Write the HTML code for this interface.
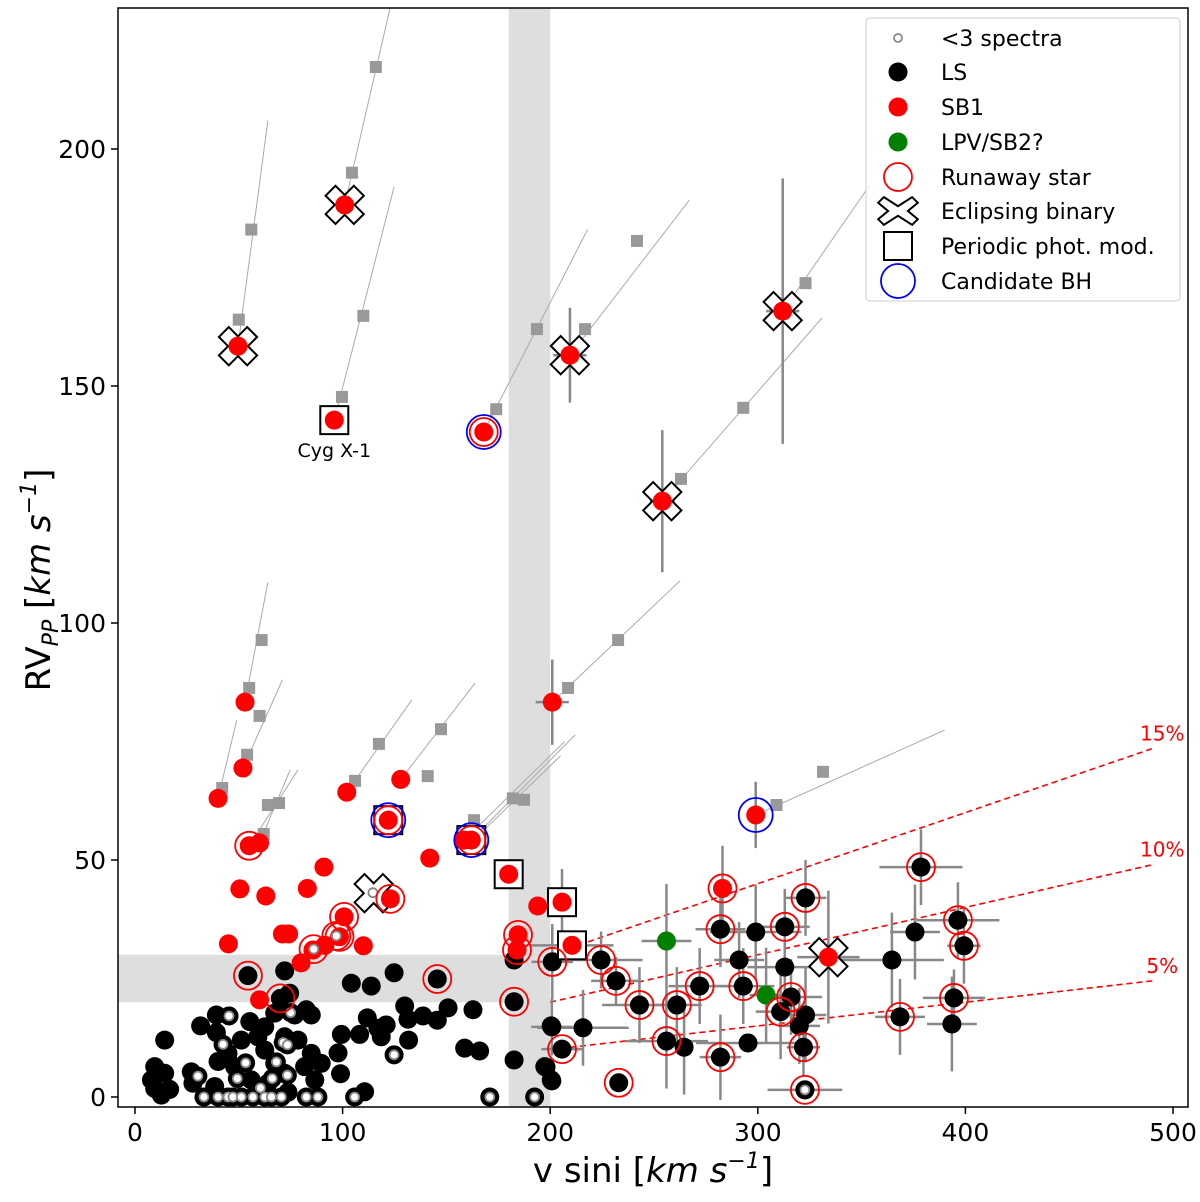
<!DOCTYPE html>
<html><head><meta charset="utf-8"><style>
html,body{margin:0;padding:0;background:#fff;}
svg{display:block;font-family:"DejaVu Sans","Liberation Sans",sans-serif;}
</style></head><body>
<svg id="chart" width="1200" height="1202" viewBox="0 0 1200 1202" xmlns="http://www.w3.org/2000/svg">
<g id="layer"></g>
</svg>
<script>
// ---- data arrays (v sini, RV_PP) ----
var xTicks = [0,100,200,300,400,500];
var yTicks = [0,50,100,150,200];
var percentLines = [15,10,5];
var sb1V  = [49.6,101,96,168,209.5,312,254,201,299,53,52,40,122,128,102,158.5,162,180,205.7,194,210.5,142,91,83,50.5,63,55,60,45,71,74,100.7,98.5,91.5,85.7,80,123,110,60,184.5,184,334,283];
var sb1RV = [158.4,188.2,142.8,140.3,156.5,165.8,125.7,83.3,59.5,83.3,69.4,63,58.4,67,64.3,54.2,54.2,47,41.1,40.3,32,50.4,48.5,44,43.9,42.4,53,53.6,32.3,34.4,34.4,38,33.8,32,31,28.3,41.8,31.9,20.5,34.2,31,29.5,44];
var sb1Err = [[209.5,156.5,8,10],[312,165.8,8,28],[254,125.7,6,15],[201,83.3,8,9],[299,59.5,0,7],[205.7,41.1,0,7],[210.5,32,20,0],[334,29.5,15,14],[283,44,0,9]];
var lsV  = [54.4,72.1,104.2,113.8,124.8,145.6,70,74.5,182.6,182.6,129.9,150.8,162.8,131.5,138.7,145.6,111.9,121,117,108.2,99.4,131.8,118.6,158.8,166,182.6,97.8,99,110.6,14.3,31.6,39.2,39.2,9.5,14.3,7.9,9.5,12.7,16.7,27.1,27.9,38.4,40,44.8,51.2,55.3,62.5,67.3,76.9,82.5,84.9,78.5,84.9,89.7,86.6,48,56,62.5,67.3,72.1,72.1,64.1,40,57.7,73.7,81.7,200.5,197.4,200.5,59.2];
var lsRV = [25.6,26.6,24,23.4,26.2,24.9,20.8,21.9,20.1,28.9,19.2,18.8,18.4,16.4,17.1,16.2,16.7,15.2,14.5,13.2,13.2,12,12.7,10.3,9.7,7.8,9.3,4.9,1.1,12,15,17.3,13.6,6.4,5,3.6,1.8,0.4,1.6,5.3,2.9,2.2,7.5,9.2,12,15.9,14.8,17.7,17.3,18.4,17.3,12,9.2,7.1,3.6,6.4,3.6,9.9,7.1,12.7,5,2.9,0.3,0.3,1,6.4,15,6.4,3.6,12.7];
var lsErrV  = [201,224.5,231.7,243,261,272,282,293,313,323,316,311,378.6,396.4,399.3,394.5,368.5,256,282,322,205.7,233,322.7,299,291,313,323,320,375.7,364.6,393.5,200.8,215.8,264.5,295.3,200.8,198];
var lsErrRV = [28.5,28.9,24.5,19.4,19.4,23.4,35.4,23.4,35.9,42,21.1,18,48.5,37.3,31.9,20.9,16.9,11.8,8.4,10.5,10.1,3,1.5,34.8,28.9,27.4,17.3,15,34.8,28.9,15.4,14.8,14.6,10.5,11.4,3.4,6.3];
var lsErrX  = [10,20,12,18,12,15,12,15,12,10,15,12,20,20,8,15,12,20,10,8,10,0,18,22,12,18,10,10,12,25,12,10,22,0,25,0,0];
var lsErrY  = [8,6,5,8,8,8,8,8,8,8,8,10,8,8,8,6,8,10,9,6,0,0,0,10,8,10,10,8,10,10,10,6,8,10,0,0,0];
var fewV  = [45.3,42.4,53.3,68.1,71.4,73.4,30.3,49.3,66.1,73.4,60.4,75,124.8,33.2,40,44.8,47.2,51.2,56.8,62.5,65.7,70.5,82.5,88.1,105.8,170.9,192.5,86.1,97,114.6,322.7];
var fewRV = [17.1,11.1,7.2,7.4,11.5,11,4.4,3.9,3.9,4.6,1.9,17.8,8.9,0,0,0,0,0,0,0,0,0,0,0,0,0,0,31.2,34,43.1,1.5];
var lpvV  = [256,304];
var lpvRV = [32.9,21.5];
var lpvErr = [[256,32.9,12,12],[304,21.5,8,10]];
var runV  = [55,100.7,98.5,86,97,123,122,162,184.5,184,168,283,54.4,145.6,70,182.6,201,224.5,231.7,243,261,272,282,293,313,323,316,311,378.6,396.4,399.3,394.5,368.5,256,282,322,205.7,233,322.7];
var runRV = [53,38,33.8,31.2,34,41.8,58.4,54.2,34.2,31,140.3,44,25.6,24.9,20.8,20.1,28.5,28.9,24.5,19.4,19.4,23.4,35.4,23.4,35.9,42,21.1,18,48.5,37.3,31.9,20.9,16.9,11.8,8.4,10.5,10.1,3,1.5];
var eclV  = [49.6,101,209.5,312,254,115,334];
var eclRV = [158.4,188.2,156.5,165.8,125.7,43,29.5];
var perV  = [96,122,162,180,205.7,210.5];
var perRV = [142.8,58.4,54.2,47,41.1,32];
var bhV   = [168,122,162,299];
var bhRV  = [140.3,58.4,54.2,59.5];
var projLines = [[49.6,158.4,64,206],[101,188.2,123,230],[96,142.8,124.8,192],[168,140.3,218,183],[209.5,156.5,267,189.2],[312,165.8,354,192.4],[254,125.7,331,164.4],[201,83.3,262.5,108.9],[299,59.5,390,77.4],[53,83.3,64,108.6],[52,69.4,71,88],[40,63,49,79.5],[60,53.6,74.7,69],[55,53,78.5,69],[102,64.3,133.4,83.8],[128,67,163.8,87.3],[162,54.2,212,76.4],[158.5,54.2,207,75],[165,55,205,72]];
var projSquares = [[50,164],[56,183],[104.5,195],[116,217.3],[99.7,147.7],[110,164.8],[174,145.1],[193.6,162],[216.8,162],[241.8,180.6],[323,171.7],[263,130.4],[293,145.4],[208.6,86.3],[232.7,96.4],[309,61.6],[331.4,68.6],[55,86.3],[61,96.4],[54,72.2],[60,80.4],[42,65.2],[62,55.5],[64,61.6],[69.4,62],[106,66.7],[117.5,74.5],[141,67.7],[147.4,77.6],[163.3,58.4],[182,63],[187.4,62.7]];

var PL=118, PR=1188, PT=8, PB=1107;
function X(v){ return 135 + v*2.076; }
function Y(r){ return 1097 - r*4.74; }
var NS="http://www.w3.org/2000/svg";
var layer=document.getElementById('layer');
function mk(tag, attrs, parent){
  var e=document.createElementNS(NS,tag);
  for(var k in attrs) e.setAttribute(k, attrs[k]);
  (parent||layer).appendChild(e); return e;
}
var clip=mk('clipPath',{id:'pc'}); mk('rect',{x:PL,y:PT,width:PR-PL,height:PB-PT},clip);
var plot=mk('g',{'clip-path':'url(#pc)'});



var e;
e=mk('rect',{x:X(180),y:PT,width:X(200)-X(180),height:PB-PT,fill:'#dedede'},plot);


e=mk('rect',{x:PL,y:Y(30),width:X(200)-PL,height:Y(20)-Y(30),fill:'#dedede'},plot);



percentLines.forEach(function(p){
  var l=mk('line',{x1:X(200),y1:Y(200*p/100),x2:X(490),y2:Y(490*p/100),stroke:'#f00','stroke-width':1.6,'stroke-dasharray':'6,4'},plot);
  
  
  var t=mk('text',{x:X(490)+10,y:Y(490*p/100)-8,fill:'#f00','font-size':20,'text-anchor':'middle'});
  t.textContent=p+'%';
  
  
});

projLines.forEach(function(a){
  var l=mk('line',{x1:X(a[0]),y1:Y(a[1]),x2:X(a[2]),y2:Y(a[3]),stroke:'#aaa','stroke-width':1},plot);
  
  
});
projSquares.forEach(function(a){
  var r=mk('rect',{x:X(a[0])-6,y:Y(a[1])-6,width:12,height:12,fill:'#999'},plot);
  
  
});

function errbar(v,r,xe,ye){
  if(xe>0){ var a=mk('line',{x1:X(v-xe),y1:Y(r),x2:X(v+xe),y2:Y(r),stroke:'#888','stroke-width':2.5},plot);
      }
  if(ye>0){ var b=mk('line',{x1:X(v),y1:Y(r-ye),x2:X(v),y2:Y(r+ye),stroke:'#888','stroke-width':2.5},plot);
      }
}
for(var i=0;i<lsErrV.length;i++) errbar(lsErrV[i],lsErrRV[i],lsErrX[i],lsErrY[i]);
sb1Err.forEach(function(a){errbar(a[0],a[1],a[2],a[3]);});
lpvErr.forEach(function(a){errbar(a[0],a[1],a[2],a[3]);});

function dot(v,r,fill,name){
  var c=mk('circle',{cx:X(v),cy:Y(r),r:9.5,fill:fill},plot);
  
  
}
for(i=0;i<lsV.length;i++) dot(lsV[i],lsRV[i],'#000','ls-point');
for(i=0;i<lsErrV.length;i++) dot(lsErrV[i],lsErrRV[i],'#000','ls-point');
for(i=0;i<fewV.length;i++){
  if(fewRV[i]<29) dot(fewV[i],fewRV[i],'#000','ls-point');
}
function xmark(v,r){
  var cx=X(v), cy=Y(r), L=20, w=7;
  var pts=[[-w,-L],[w,-L],[w,-w],[L,-w],[L,w],[w,w],[w,L],[-w,L],[-w,w],[-L,w],[-L,-w],[-w,-w]];
  var s=pts.map(function(p){var c=Math.SQRT1_2;return (cx+(p[0]-p[1])*c).toFixed(1)+','+(cy+(p[0]+p[1])*c).toFixed(1);}).join(' ');
  var g=mk('polygon',{points:s,fill:'#fff',stroke:'#000','stroke-width':2},plot);
  
  
}
for(i=0;i<eclV.length;i++) xmark(eclV[i],eclRV[i]);
for(i=0;i<perV.length;i++){
  var q=mk('rect',{x:X(perV[i])-14,y:Y(perRV[i])-14,width:28,height:28,fill:'#fff',stroke:'#000','stroke-width':2},plot);
  
  
}
for(i=0;i<sb1V.length;i++) dot(sb1V[i],sb1RV[i],'#f00','sb1-point');
for(i=0;i<lpvV.length;i++) dot(lpvV[i],lpvRV[i],'#008000','lpv-sb2-point');
for(i=0;i<fewV.length;i++){
  var f=mk('circle',{cx:X(fewV[i]),cy:Y(fewRV[i]),r:4.5,fill:'#fff',stroke:'#888','stroke-width':1.8},plot);
  
  
}
for(i=0;i<runV.length;i++){
  var rc=mk('circle',{cx:X(runV[i]),cy:Y(runRV[i]),r:14,fill:'none',stroke:'#f00','stroke-width':1.8},plot);
  
  
}
for(i=0;i<bhV.length;i++){
  var bc=mk('circle',{cx:X(bhV[i]),cy:Y(bhRV[i]),r:17,fill:'none',stroke:'#00f','stroke-width':1.8},plot);
  
  
}
e=mk('text',{x:X(96),y:Y(142.8)+37,'font-size':19,'text-anchor':'middle',fill:'#000'},plot);
e.textContent='Cyg X-1';



e=mk('rect',{x:PL,y:PT,width:PR-PL,height:PB-PT,fill:'none',stroke:'#000','stroke-width':1.5});


xTicks.forEach(function(t){
  var tk=mk('line',{x1:X(t),y1:PB,x2:X(t),y2:PB+7,stroke:'#000','stroke-width':1.5});
  
  
  var tx=mk('text',{x:X(t),y:PB+34,'font-size':25,'text-anchor':'middle'});
  tx.textContent=t;
  
  
});
yTicks.forEach(function(t){
  var tk=mk('line',{x1:PL-7,y1:Y(t),x2:PL,y2:Y(t),stroke:'#000','stroke-width':1.5});
  
  
  var tx=mk('text',{x:PL-12,y:Y(t)+9,'font-size':25,'text-anchor':'end'});
  tx.textContent=t;
  
  
});
</script>
<svg style="position:absolute;left:0;top:0" width="1200" height="1202">
<text x="653" y="1182" font-size="34" text-anchor="middle" font-family="DejaVu Sans, Liberation Sans, sans-serif">v sini [<tspan font-style="italic">km s</tspan><tspan font-style="italic" font-size="22" dy="-14">−1</tspan><tspan dy="14">]</tspan></text>
<text transform="translate(50,580) rotate(-90)" font-size="34" text-anchor="middle" font-family="DejaVu Sans, Liberation Sans, sans-serif">RV<tspan font-style="italic" font-size="22" dy="8">PP</tspan><tspan dy="-8"> [</tspan><tspan font-style="italic">km s</tspan><tspan font-style="italic" font-size="22" dy="-14">−1</tspan><tspan dy="14">]</tspan></text>
<g font-family="DejaVu Sans, Liberation Sans, sans-serif" font-size="22">
<rect x="866" y="18" width="314" height="283" rx="4" fill="#fff" fill-opacity="0.8" stroke="#ccc"/>
<g><circle cx="898" cy="38" r="4" fill="#fff" stroke="#888" stroke-width="1.8"/><text x="941" y="46">&lt;3 spectra</text></g>
<g><circle cx="898" cy="72" r="9.5" fill="#000"/><text x="941" y="80">LS</text></g>
<g><circle cx="898" cy="107" r="9.5" fill="#f00"/><text x="941" y="115">SB1</text></g>
<g><circle cx="898" cy="142" r="9.5" fill="#008000"/><text x="941" y="150">LPV/SB2?</text></g>
<g><circle cx="898" cy="177" r="14" fill="none" stroke="#f00" stroke-width="1.8"/><text x="941" y="185">Runaway star</text></g>
<g><polygon points="883.9,197.1 898,206.2 912.1,197.1 917.8,202.8 907.9,211 917.8,219.2 912.1,224.9 898,215.8 883.9,224.9 878.2,219.2 888.1,211 878.2,202.8" fill="#fff" stroke="#000" stroke-width="2"/><text x="941" y="219">Eclipsing binary</text></g>
<g><rect x="884" y="232" width="28" height="28" fill="#fff" stroke="#000" stroke-width="2"/><text x="941" y="254">Periodic phot. mod.</text></g>
<g><circle cx="898" cy="281" r="17" fill="none" stroke="#00f" stroke-width="1.8"/><text x="941" y="289">Candidate BH</text></g>
</g>
</svg>
</body></html>
